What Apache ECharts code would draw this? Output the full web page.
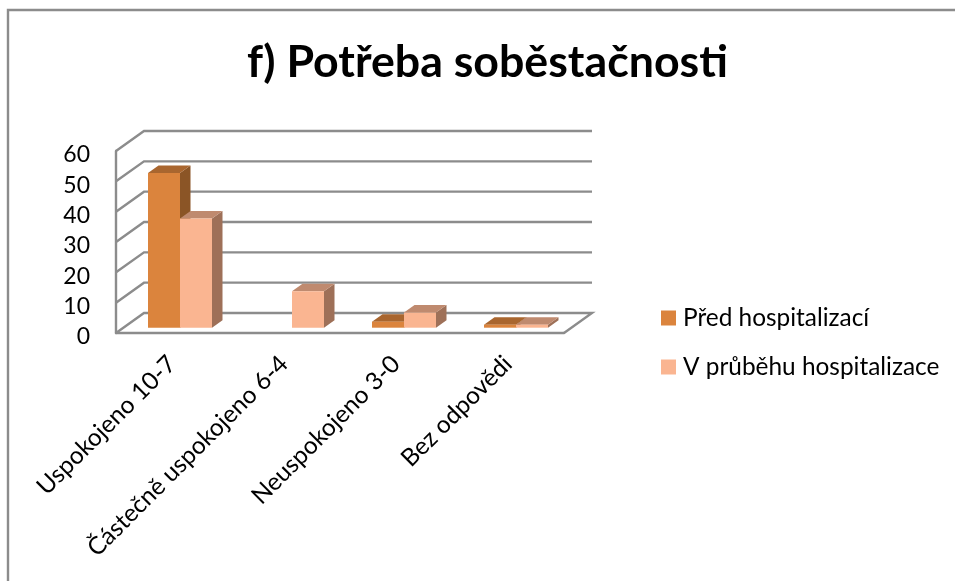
<!DOCTYPE html>
<html><head><meta charset="utf-8">
<style>html,body{margin:0;padding:0;background:#fff}#c{width:955px;height:581px}</style>
<script src="https://cdn.jsdelivr.net/npm/echarts@6/dist/echarts.min.js"></script>
</head><body><div id="c"></div>
<script>
const categories = ['Uspokojeno 10-7', 'Částečně uspokojeno 6-4', 'Neuspokojeno 3-0', 'Bez odpovědi'];
const pred = [51, 0, 2, 1];
const vPrubehu = [36, 12, 5, 1];
const yTicks = [0, 10, 20, 30, 40, 50, 60];
const FONT = 'Lato, "Open Sans", sans-serif';
const WALL = [28, -20];
const BAR_BASE = [8, -5.3];
const BAR_DEPTH = [10.5, -7.5];
const BAR_W = 32;
const LINE = '#8c8c8c';
const chart = echarts.init(document.getElementById('c'), null, {renderer: 'canvas'});

function wallItem(params, api) {
  const cs = params.coordSys;
  const y = api.coord([0, api.value(0)])[1];
  const L = cs.x, R = cs.x + cs.width;
  const pts = [[L, y], [L + WALL[0], y + WALL[1]], [R + WALL[0], y + WALL[1]]];
  if (api.value(0) === 0) pts.push([R, y]);
  return {type: 'polyline', shape: {points: pts},
    style: {stroke: LINE, lineWidth: 2.4, fill: null}};
}
function barSeries(name, values, front, top, side, slot) {
  return {
    name, type: 'custom', coordinateSystem: 'cartesian2d', z: 5,
    itemStyle: {color: front},
    data: values.map((v, i) => [i, v]),
    encode: {x: 0, y: 1},
    renderItem(params, api) {
      const v = api.value(1);
      if (!v) return null;
      const base = api.coord([api.value(0), 0]);
      const head = api.coord([api.value(0), v]);
      const x0 = base[0] + BAR_BASE[0] - BAR_W + slot * BAR_W;
      const x1 = x0 + BAR_W;
      const yB = base[1] + BAR_BASE[1];
      const yT = head[1] + BAR_BASE[1];
      const dx = BAR_DEPTH[0], dy = BAR_DEPTH[1];
      return {type: 'group', children: [
        {type: 'polygon', shape: {points: [[x1, yT], [x1 + dx, yT + dy], [x1 + dx, yB + dy], [x1, yB]]}, style: {fill: side}},
        {type: 'polygon', shape: {points: [[x0, yT], [x0 + dx, yT + dy], [x1 + dx, yT + dy], [x1, yT]]}, style: {fill: top}},
        {type: 'rect', shape: {x: x0, y: yT, width: BAR_W, height: yB - yT}, style: {fill: front}}
      ]};
    }
  };
}
chart.setOption({
  animation: false,
  backgroundColor: '#fff',
  title: {text: 'f) Potřeba soběstačnosti', left: 482.5, top: 35, textAlign: 'center',
    textStyle: {fontFamily: FONT, fontWeight: 'bold', fontSize: 44.7, color: '#000'}},
  legend: {orient: 'vertical', left: 656, top: 301, itemWidth: 15, itemHeight: 15, itemGap: 25, icon: 'rect',
    data: ['Před hospitalizací', 'V průběhu hospitalizace'],
    textStyle: {fontFamily: FONT, fontSize: 24.4, color: '#000', padding: [0, 0, 0, 2]}},
  grid: {left: 116, top: 151, width: 448, height: 182},
  xAxis: {type: 'category', data: categories, boundaryGap: true,
    axisTick: {show: false},
    axisLine: {lineStyle: {color: LINE, width: 2.4}},
    axisLabel: {rotate: 45, interval: 0, margin: 27, fontFamily: FONT, fontSize: 24.4, color: '#000'}},
  yAxis: {type: 'value', min: 0, max: 60, interval: 10,
    axisLine: {show: true, lineStyle: {color: LINE, width: 2.4}},
    axisTick: {show: false}, splitLine: {show: false},
    axisLabel: {margin: 26, formatter: '{n|{value}}', rich: {n: {padding: [8, 0, 0, 0], fontFamily: FONT, fontSize: 23, color: '#000'}}}},
  series: [
    {type: 'custom', silent: true, z: 1, data: yTicks.map(t => [t]), encode: {y: 0}, renderItem: wallItem},
    barSeries('Před hospitalizací', pred, '#DB843D', '#A9662F', '#8B5526', 0),
    barSeries('V průběhu hospitalizace', vPrubehu, '#FAB591', '#BF8A6F', '#9E7058', 1)
  ],
  graphic: [{type: 'polyline', silent: true, z: 0,
    shape: {points: [[8, 581], [8, 10], [955, 10]]},
    style: {stroke: LINE, lineWidth: 2.4, fill: null}}]
});
</script></body></html>
